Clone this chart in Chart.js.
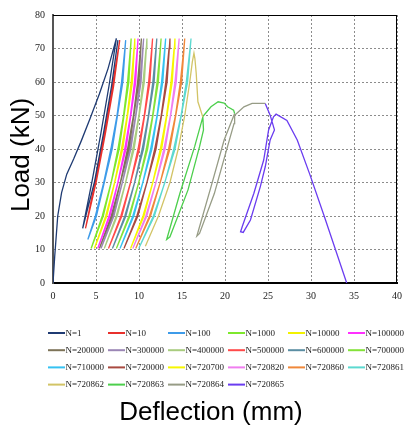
<!DOCTYPE html>
<html>
<head>
<meta charset="utf-8">
<script src="https://cdn.jsdelivr.net/npm/chart.js@4"></script>
<style>
    html, body { margin: 0; padding: 0; background: #fff; }
</style>
</head>
<body>
<canvas id="loadChart" width="409" height="428"></canvas>
<script>
// Cycle names and line colours (legend order)
const cycleLabels = ['N=1', 'N=10', 'N=100', 'N=1000', 'N=10000', 'N=100000',
    'N=200000', 'N=300000', 'N=400000', 'N=500000', 'N=600000', 'N=700000',
    'N=710000', 'N=720000', 'N=720700', 'N=720820', 'N=720860', 'N=720861',
    'N=720862', 'N=720863', 'N=720864', 'N=720865'];
const lineColors = ['#1f3b73', '#e8302c', '#3d9be9', '#7ee82c', '#f2f200', '#ff30ff',
    '#7d7358', '#9b86b5', '#a9cc7f', '#ff4a4a', '#5b8ea3', '#84e23a',
    '#35c2f2', '#a94a40', '#f7f700', '#f07ef0', '#f0883a', '#5cd9d0',
    '#d2c466', '#4ccf4c', '#979c86', '#6a3cf0'];

const xTicks = [0, 5, 10, 15, 20, 25, 30, 35, 40];
const yTicks = [0, 10, 20, 30, 40, 50, 60, 70, 80];

// Load levels (kN) shared by the regular cycles: up to the peak and back down
const loopLoads = [10.3, 20, 30, 40, 50, 60, 70, 73, 60, 40, 20, 10.6];

// Deflections (mm) of the regular cycles at loopLoads
const deflN1000   = [4.43, 5.73, 6.76, 7.55, 8.20, 8.67, 9.00, 9.09, 8.82, 7.70, 5.85, 4.48];
const deflN10000  = [4.81, 6.13, 7.16, 7.96, 8.62, 9.09, 9.42, 9.51, 9.24, 8.11, 6.25, 4.86];
const deflN100000 = [5.20, 6.51, 7.54, 8.34, 9.00, 9.47, 9.80, 9.89, 9.62, 8.49, 6.63, 5.25];
const deflN200000 = [5.39, 6.76, 7.83, 8.67, 9.35, 9.84, 10.18, 10.28, 9.99, 8.82, 6.88, 5.44];
const deflN300000 = [5.58, 6.97, 8.06, 8.90, 9.60, 10.09, 10.44, 10.54, 10.24, 9.05, 7.09, 5.63];
const deflN400000 = [5.96, 7.35, 8.44, 9.28, 9.98, 10.47, 10.82, 10.92, 10.62, 9.43, 7.47, 6.01];
const deflN500000 = [6.45, 7.89, 9.01, 9.89, 10.61, 11.12, 11.48, 11.58, 11.27, 10.04, 8.01, 6.50];
const deflN600000 = [6.91, 8.35, 9.49, 10.37, 11.09, 11.61, 11.97, 12.07, 11.76, 10.52, 8.47, 6.96];
const deflN700000 = [7.37, 8.83, 9.97, 10.85, 11.58, 12.10, 12.47, 12.57, 12.25, 11.00, 8.95, 7.42];
const deflN710000 = [7.79, 9.28, 10.44, 11.35, 12.09, 12.62, 12.99, 13.10, 12.77, 11.50, 9.40, 7.84];
const deflN720000 = [8.25, 9.75, 10.92, 11.83, 12.58, 13.12, 13.49, 13.60, 13.27, 11.98, 9.87, 8.30];
const deflN720700 = [9.02, 10.46, 11.60, 12.48, 13.20, 13.72, 14.08, 14.18, 13.87, 12.63, 10.58, 9.07];
const deflN720820 = [9.28, 10.79, 11.97, 12.89, 13.65, 14.18, 14.56, 14.67, 14.33, 13.04, 10.91, 9.33];
const deflN720860 = [9.62, 11.22, 12.47, 13.44, 14.24, 14.81, 15.21, 15.32, 14.96, 13.59, 11.34, 9.67];
const deflN720861 = [9.97, 11.67, 13.01, 14.04, 14.89, 15.50, 15.93, 16.05, 15.65, 14.19, 11.79, 10.02];

// First cycles (own load levels)
const loadN1 = [0, 8, 20, 27, 32.5, 37, 42.5, 49, 56.5, 64, 73, 58.8, 44.7, 30.5, 16.3, 30.5, 44.7, 58.8, 72.5];
const deflN1 = [0, 0.2, 0.55, 1.0, 1.6, 2.4, 3.3, 4.3, 5.4, 6.4, 7.37, 6.51, 5.57, 4.55, 3.45, 4.85, 5.87, 6.81, 7.55];
const loadN10 = [16.3, 30.35, 44.4, 58.45, 72.5, 58.45, 44.4, 30.35, 16.8];
const deflN10 = [3.78, 4.89, 5.93, 6.88, 7.76, 7.03, 6.08, 5.04, 3.83];
const loadN100 = [13, 20, 30, 40, 50, 60, 70, 72.5, 60, 40, 20, 13.3];
const deflN100 = [4.05, 4.93, 5.90, 6.73, 7.44, 7.97, 8.36, 8.45, 8.12, 6.88, 5.05, 4.10];

// Failure cycles
const loadN720862 = [11, 20, 30, 40, 50, 60, 66, 68.6, 67, 62.7, 54.1, 52.6, 49.5];
const deflN720862 = [10.74, 12.26, 13.6, 14.56, 15.32, 15.9, 16.2, 16.39, 16.5, 16.65, 16.85, 17.04, 17.42];
const loadN720863 = [49.5, 40.7, 26.7, 13.0, 13.8, 27.8, 40.7, 45.7, 49.7, 52.6, 54.1, 53.7, 52.6, 51.6, 50.6];
const deflN720863 = [17.42, 16.47, 14.75, 13.22, 13.6, 15.7, 17.04, 17.5, 17.42, 18.37, 19.2, 19.9, 20.3, 21.0, 21.12];
const loadN720864 = [50.6, 42.7, 28.7, 14.0, 14.8, 26.7, 40.7, 47.6, 50.1, 52.6, 53.6, 53.6];
const deflN720864 = [21.12, 19.9, 18.37, 16.73, 17.04, 18.76, 20.29, 21.05, 21.12, 22.2, 23.15, 24.68];
const loadN720865 = [53.6, 50.1, 45.7, 42.7, 34.7, 28.7, 18.8, 15.1, 15.3, 16.8, 26.7, 36.7, 45.7, 49.6, 50.4, 48.5, 42.7, 32.5, 19.5, 0];
const deflN720865 = [24.68, 25.25, 25.75, 25.25, 24.68, 24.1, 22.96, 22.12, 21.81, 22.0, 23.35, 24.5, 25.07, 25.64, 25.94, 27.2, 28.4, 29.85, 31.6, 34.15];

const cycleSeries = [
    [deflN1, loadN1], [deflN10, loadN10], [deflN100, loadN100],
    [deflN1000, loopLoads], [deflN10000, loopLoads], [deflN100000, loopLoads],
    [deflN200000, loopLoads], [deflN300000, loopLoads], [deflN400000, loopLoads],
    [deflN500000, loopLoads], [deflN600000, loopLoads], [deflN700000, loopLoads],
    [deflN710000, loopLoads], [deflN720000, loopLoads], [deflN720700, loopLoads],
    [deflN720820, loopLoads], [deflN720860, loopLoads], [deflN720861, loopLoads],
    [deflN720862, loadN720862], [deflN720863, loadN720863],
    [deflN720864, loadN720864], [deflN720865, loadN720865]
];

const tickFont = { family: '"Liberation Serif", "Times New Roman", serif', size: 10 };

// Plot frame (top/right), legend grid and axis titles
const extrasPlugin = {
    id: 'extras',
    afterDraw(chart) {
        const { ctx, chartArea: a } = chart;
        ctx.save();
        ctx.strokeStyle = '#000';
        ctx.lineWidth = 1;
        ctx.beginPath();
        ctx.moveTo(a.left, a.top + 0.5);
        ctx.lineTo(a.right, a.top + 0.5);
        ctx.moveTo(a.right - 0.5, a.top);
        ctx.lineTo(a.right - 0.5, a.bottom);
        ctx.stroke();

        // legend: 6 columns
        ctx.font = '9px "Liberation Serif", "Times New Roman", serif';
        ctx.textBaseline = 'middle';
        ctx.textAlign = 'left';
        chart.data.datasets.forEach((ds, i) => {
            const x = 48 + (i % 6) * 60;
            const y = 333 + Math.floor(i / 6) * 17.2;
            ctx.strokeStyle = ds.borderColor;
            ctx.lineWidth = 2;
            ctx.beginPath();
            ctx.moveTo(x, y);
            ctx.lineTo(x + 17, y);
            ctx.stroke();
            ctx.fillStyle = '#222';
            ctx.fillText(ds.label, x + 17.5, y + 0.5);
        });

        // axis titles
        ctx.fillStyle = '#000';
        ctx.font = '26px "Liberation Sans", Arial, sans-serif';
        ctx.textAlign = 'center';
        ctx.fillText('Deflection (mm)', 211, 413);
        ctx.translate(22, 155);
        ctx.rotate(-Math.PI / 2);
        ctx.fillText('Load (kN)', 0, 0);
        ctx.restore();
    }
};

const ctx = document.getElementById('loadChart').getContext('2d');
new Chart(ctx, {
    type: 'scatter',
    data: {
        datasets: cycleSeries.map(([xs, ys], i) => ({
            label: cycleLabels[i],
            data: xs.map((x, j) => ({ x: x, y: ys[j] })),
            borderColor: lineColors[i],
            backgroundColor: lineColors[i],
            borderWidth: 1.3,
            showLine: true,
            pointRadius: 0,
            tension: 0
        }))
    },
    options: {
        responsive: false,
        animation: false,
        layout: { padding: { top: 15, right: 7, left: 0, bottom: 0 } },
        plugins: {
            legend: { display: false },
            tooltip: { enabled: false }
        },
        scales: {
            x: {
                type: 'linear',
                min: 0,
                max: 40,
                afterBuildTicks: scale => { scale.ticks = xTicks.map(v => ({ value: v })); },
                afterFit: scale => { scale.height = 145; },
                ticks: { font: tickFont, color: '#222', padding: 7, maxRotation: 0 },
                grid: { color: '#8c8c8c', lineWidth: 1, drawTicks: false },
                border: { display: true, color: '#000', width: 2, dash: [2, 2] }
            },
            y: {
                type: 'linear',
                min: 0,
                max: 80,
                afterBuildTicks: scale => { scale.ticks = yTicks.map(v => ({ value: v })); },
                afterFit: scale => { scale.width = 53; },
                ticks: { font: tickFont, color: '#222', padding: 8 },
                grid: { color: '#8c8c8c', lineWidth: 1, drawTicks: false },
                border: { display: true, color: '#555', width: 2, dash: [2, 2] }
            }
        }
    },
    plugins: [extrasPlugin]
});
</script>
</body>
</html>
